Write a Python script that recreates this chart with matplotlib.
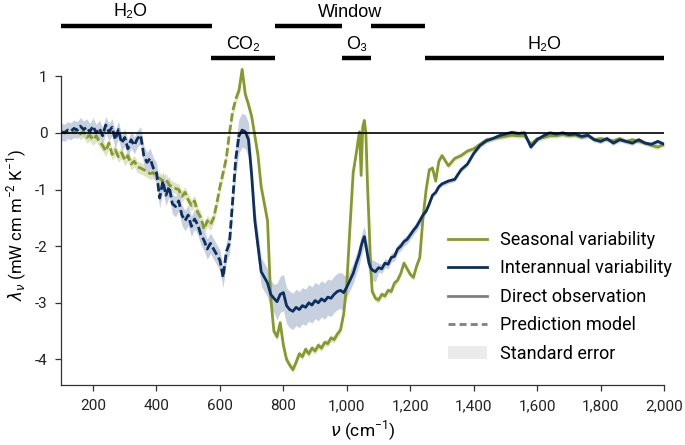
import numpy as np
import matplotlib
matplotlib.use("Agg")
import matplotlib.pyplot as plt
from matplotlib.lines import Line2D
from matplotlib.patches import Patch

plt.rcParams['font.family'] = ['Roboto', 'DejaVu Sans']
plt.rcParams['axes.unicode_minus'] = False
plt.rcParams['mathtext.fontset'] = 'custom'
plt.rcParams['mathtext.rm'] = 'Roboto'
plt.rcParams['mathtext.it'] = 'DejaVu Sans:italic'

# ---------------- data ----------------
wavenumber = np.concatenate([np.arange(100, 1030, 10), np.arange(1030, 1080, 5),
                             np.arange(1080, 1300, 10), np.arange(1300, 2001, 20)])

seasonal = [
    # 100-1020 step 10
    0.00, 0.02, 0.00, 0.04, 0.00, 0.05, -0.02, 0.03, -0.08, -0.04,
    -0.12, -0.05, -0.15, -0.22, -0.32, -0.18, -0.38, -0.30, -0.42, -0.35,
    -0.48, -0.40, -0.55, -0.50, -0.60, -0.62, -0.65, -0.68, -0.72, -0.70,
    -0.78, -0.80, -0.85, -0.82, -0.92, -0.95, -0.98, -1.00, -1.12, -1.05,
    -1.18, -1.28, -1.20, -1.40, -1.50, -1.70, -1.55, -1.62, -1.50, -1.25,
    -0.95, -0.70, -0.45, 0.00, 0.38, 0.60, 0.75, 1.12, 0.68, 0.50,
    0.29, -0.05, -0.40, -0.95, -1.25, -1.55, -2.90, -3.50, -3.60, -3.35,
    -3.75, -4.00, -4.10, -4.18, -4.05, -3.90, -3.95, -3.82, -3.90, -3.80,
    -3.85, -3.75, -3.80, -3.70, -3.72, -3.62, -3.65, -3.55, -3.48, -3.20,
    -2.65, -1.65, -0.70,
    # 1030-1075 step 5
    -0.35, -0.15, 0.02, -0.75, 0.10, 0.22, 0.00, -0.90, -1.60, -2.36,
    # 1080-1290 step 10
    -2.80, -2.92, -2.95, -2.85, -2.88, -2.78, -2.80, -2.65, -2.60, -2.48,
    -2.30, -2.40, -2.50, -2.55, -2.35, -2.20, -1.50, -1.00, -0.65, -0.62,
    -0.85, -0.50,
    # 1300-2000 step 20
    -0.40, -0.58, -0.45, -0.40, -0.32, -0.28, -0.20, -0.12, -0.10, -0.08,
    -0.06, -0.04, -0.05, -0.05, -0.20, -0.10, -0.08, -0.05, -0.05, -0.03,
    -0.05, -0.04, -0.08, -0.05, -0.12, -0.10, -0.12, -0.14, -0.10, -0.15,
    -0.12, -0.15, -0.18, -0.22, -0.25, -0.20,
]

interannual = [
    # 100-1020 step 10
    0.02, 0.00, 0.05, 0.03, 0.08, 0.05, 0.12, 0.06, 0.10, 0.02,
    0.12, 0.00, 0.08, -0.05, 0.14, 0.02, 0.10, -0.12, 0.06, -0.18,
    -0.08, -0.28, -0.12, -0.22, -0.10, -0.04, -0.40, -0.52, -0.45, -0.62,
    -0.70, -1.15, -0.85, -1.10, -0.95, -1.25, -1.30, -1.20, -1.45, -1.55,
    -1.45, -1.65, -1.52, -1.62, -1.80, -1.90, -2.05, -1.95, -2.05, -2.15,
    -2.25, -2.55, -2.10, -1.95, -1.20, -0.45, -0.05, 0.05, 0.02, -0.12,
    -0.75, -1.55, -2.00, -2.45, -2.55, -2.65, -2.85, -2.92, -2.98, -2.85,
    -2.82, -3.05, -3.12, -3.15, -3.08, -3.12, -3.05, -3.08, -3.00, -3.04,
    -2.96, -3.00, -2.93, -2.97, -2.90, -2.92, -2.85, -2.80, -2.78, -2.82,
    -2.72, -2.60, -2.48,
    # 1030-1075 step 5
    -2.30, -2.22, -2.13, -2.00, -1.90, -1.83, -1.98, -2.15, -2.30, -2.38,
    # 1080-1290 step 10
    -2.42, -2.45, -2.38, -2.40, -2.30, -2.32, -2.20, -2.18, -2.05, -2.00,
    -1.92, -1.88, -1.80, -1.72, -1.65, -1.55, -1.45, -1.38, -1.25, -1.10,
    -1.05, -0.95,
    # 1300-2000 step 20
    -0.90, -0.85, -0.82, -0.65, -0.55, -0.36, -0.22, -0.14, -0.10, -0.05,
    -0.02, 0.01, -0.01, 0.00, -0.25, -0.12, -0.05, 0.00, -0.02, 0.00,
    -0.03, -0.02, -0.06, -0.04, -0.12, -0.15, -0.10, -0.18, -0.12, -0.15,
    -0.18, -0.12, -0.18, -0.20, -0.15, -0.20,
]

# standard-error half widths per spectral region (region upper edges)
se_edges = [360, 650, 700, 780, 1000, 1100, 1250, 2001]
se_interannual = [0.15, 0.18, 0.30, 0.25, 0.32, 0.18, 0.08, 0.04]
se_seasonal = [0.10, 0.10, 0.08, 0.08, 0.06, 0.06, 0.05, 0.04]

prediction_limit = 660  # below this: prediction model (dashed)

bands_upper = [("H₂O", 100, 575), ("Window", 772, 985), ("Window", 1076, 1247)]
bands_lower = [("CO₂", 573, 772), ("O₃", 985, 1076), ("H₂O", 1247, 2000)]

# ---------------- plot ----------------
x = wavenumber
seasonal = np.array(seasonal)
interannual = np.array(interannual)
idx = np.searchsorted(se_edges, x, side='right')
idx = np.clip(idx, 0, len(se_edges) - 1)
se_i = np.array(se_interannual)[idx]
se_s = np.array(se_seasonal)[idx]

c_s = '#869a2c'
c_i = '#0c2f5f'
fig = plt.figure(figsize=(6.85, 4.45), dpi=100)
ax = fig.add_axes([0.0895, 0.135, 0.880, 0.719])

ax.fill_between(x, seasonal - se_s, seasonal + se_s, color='#dfe4c2', lw=0, zorder=1)
ax.fill_between(x, interannual - se_i, interannual + se_i, color='#c6d0de', lw=0, zorder=1.5)

m_pred = x <= prediction_limit
m_obs = x >= prediction_limit
lw = 2.0
ax.plot(x[m_pred], seasonal[m_pred], color=c_s, lw=lw, ls=(0, (3.0, 1.2)), zorder=3)
ax.plot(x[m_obs], seasonal[m_obs], color=c_s, lw=lw, zorder=3)
ax.plot(x[m_pred], interannual[m_pred], color=c_i, lw=lw, ls=(0, (3.0, 1.2)), zorder=4)
ax.plot(x[m_obs], interannual[m_obs], color=c_i, lw=lw, zorder=4)

ax.axhline(0, color='black', lw=1.2, zorder=5)

ax.set_xlim(100, 2000)
ax.set_ylim(-4.45, 1.2)
ax.set_xticks(np.arange(200, 2001, 200))
ax.set_xticklabels([f"{v:,}" for v in range(200, 2001, 200)])
ax.set_yticks([-4, -3, -2, -1, 0, 1])
ax.set_yticklabels(['-4', '-3', '-2', '-1', '0', '1'])
for s in ['top', 'right']:
    ax.spines[s].set_visible(False)
ax.spines['left'].set_bounds(-4.45, 1)
for s in ['left', 'bottom']:
    ax.spines[s].set_color('#333333')
    ax.spines[s].set_linewidth(0.9)
ax.tick_params(axis='both', labelsize=11, color='#333333', length=4, width=0.9, pad=6,
               labelcolor='#222222')

ax.set_xlabel(r"$\nu$ (cm$^{-1}$)", fontsize=12.5, labelpad=4)
ax.set_ylabel(r"$\lambda_\nu$ (mW cm m$^{-2}$ K$^{-1}$)", fontsize=12, labelpad=4)

for lab, a, b in bands_upper:
    ax.plot([a, b], [1.89, 1.89], color='black', lw=3.2, solid_capstyle='butt', clip_on=False)
for lab, a, b in bands_lower:
    ax.plot([a, b], [1.32, 1.32], color='black', lw=3.2, solid_capstyle='butt', clip_on=False)
top_font = ['Liberation Sans', 'DejaVu Sans']
ax.text((bands_upper[0][1] + bands_upper[0][2]) / 2 - 20, 2.15, bands_upper[0][0], ha='center',
        va='center', fontsize=13, family=top_font, clip_on=False)
ax.text((bands_upper[1][1] + bands_upper[2][2]) / 2, 2.13, "Window", ha='center',
        va='center', fontsize=13, family=top_font, clip_on=False)
for lab, a, b in bands_lower:
    ax.text((a + b) / 2, 1.57, lab, ha='center', va='center', fontsize=13, family=top_font,
            clip_on=False)

handles = [
    Line2D([], [], color=c_s, lw=2),
    Line2D([], [], color=c_i, lw=2),
    Line2D([], [], color='#808080', lw=2),
    Line2D([], [], color='#808080', lw=2, ls=(0, (2.5, 1.5))),
    Patch(facecolor='#ebebeb', edgecolor='none'),
]
labels = ["Seasonal variability", "Interannual variability", "Direct observation",
          "Prediction model", "Standard error"]
ax.legend(handles, labels, loc='upper left', bbox_to_anchor=(448 / 685, 1 - 231 / 445),
          bbox_transform=fig.transFigure, frameon=False,
          fontsize=13, handlelength=2.15, handletextpad=0.72, labelspacing=0.58,
          borderaxespad=0.0, borderpad=0.0)

fig.savefig("out.png", dpi=100)
